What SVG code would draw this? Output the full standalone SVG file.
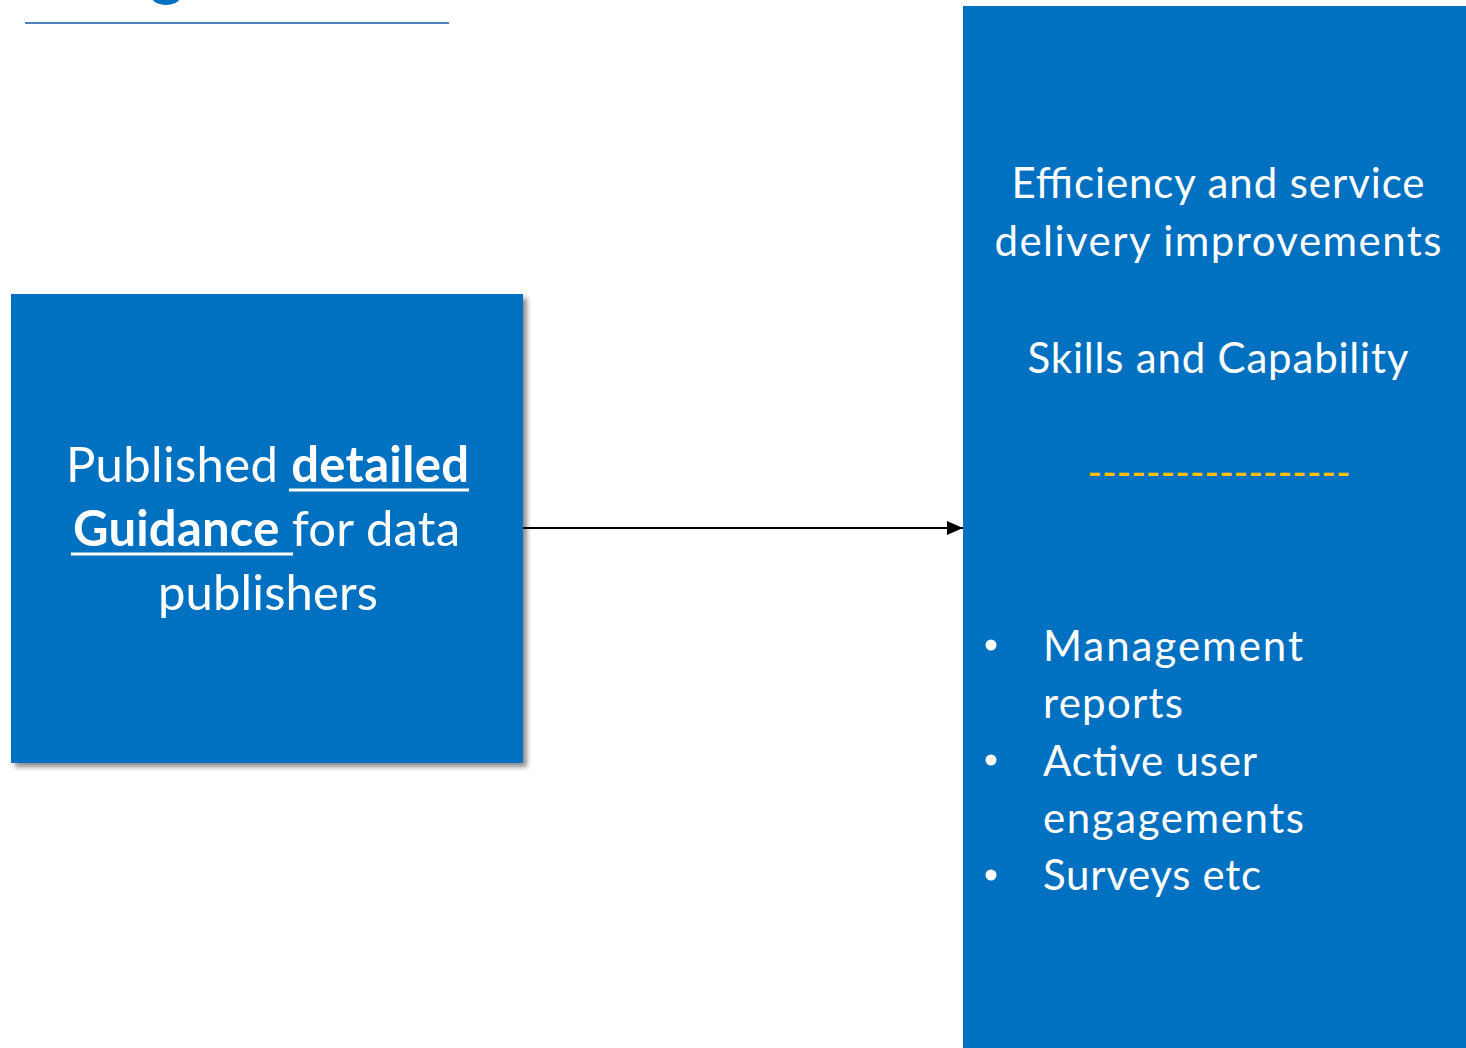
<svg xmlns="http://www.w3.org/2000/svg" width="1466" height="1048" viewBox="0 0 1466 1048">
  <style>
    .box { fill: #0070C0; }
    .t { font-family: Lato, "Liberation Sans", sans-serif; fill: #ffffff; }
    .r { font-size: 42px; }
    .l { font-size: 49px; }
    .b { font-weight: bold; }
    .ul { stroke: #ffffff; stroke-width: 3; }
    .dash { font-family: "Liberation Sans", sans-serif; font-size: 40px; fill: #FFC000; }
  </style>
  <defs>
    <filter id="shadow" x="-10%" y="-10%" width="125%" height="125%">
      <feDropShadow dx="4" dy="4" stdDeviation="2.5" flood-color="#000000" flood-opacity="0.45"/>
    </filter>
    <marker id="arrow" markerWidth="16" markerHeight="14" refX="16" refY="7" orient="auto" markerUnits="userSpaceOnUse">
      <path d="M0,0 L16,7 L0,14 Z" fill="#000000"/>
    </marker>
  </defs>

  <g id="header">
    <ellipse cx="166" cy="-8" rx="17" ry="13" fill="#0070C0"/>
    <line x1="25" y1="23" x2="449" y2="23" stroke="#4F81BD" stroke-width="2"/>
  </g>

  <g id="connectors">
    <line x1="523" y1="528" x2="963" y2="528" stroke="#000000" stroke-width="2" marker-end="url(#arrow)"/>
  </g>

  <g id="node-guidance">
    <rect class="box" x="11" y="294" width="512" height="469" filter="url(#shadow)"/>
    <text class="t l" x="66" y="482" textLength="403" lengthAdjust="spacing" xml:space="preserve">Published <tspan class="b">detailed</tspan></text>
    <line class="ul" x1="289" y1="490" x2="469" y2="490"/>
    <text class="t l" x="73" y="546" textLength="387" lengthAdjust="spacing" xml:space="preserve"><tspan class="b">Guidance </tspan>for data</text>
    <line class="ul" x1="71" y1="554" x2="293" y2="554"/>
    <text class="t l" x="268" y="610" text-anchor="middle" textLength="220" lengthAdjust="spacing">publishers</text>
  </g>

  <g id="node-outcomes">
    <rect class="box" x="963" y="6" width="503" height="1042"/>
    <text class="t r" x="1218" y="198" text-anchor="middle" textLength="413" lengthAdjust="spacing">Efficiency and service</text>
    <text class="t r" x="1218" y="256" text-anchor="middle" textLength="447" lengthAdjust="spacing">delivery improvements</text>
    <text class="t r" x="1218" y="373" text-anchor="middle" textLength="381" lengthAdjust="spacing">Skills and Capability</text>
    <text class="dash" x="1088" y="485" textLength="262" lengthAdjust="spacing">------------------</text>
    <circle cx="991" cy="645" r="5.5" fill="#ffffff"/>
    <circle cx="991" cy="760" r="5.5" fill="#ffffff"/>
    <circle cx="991" cy="875" r="5.5" fill="#ffffff"/>
    <text class="t r" x="1043" y="661" textLength="260" lengthAdjust="spacing">Management</text>
    <text class="t r" x="1043" y="718" textLength="140" lengthAdjust="spacing">reports</text>
    <text class="t r" x="1043" y="776" textLength="214" lengthAdjust="spacing">Active user</text>
    <text class="t r" x="1043" y="833" textLength="261" lengthAdjust="spacing">engagements</text>
    <text class="t r" x="1043" y="890" textLength="218" lengthAdjust="spacing">Surveys etc</text>
  </g>
</svg>
